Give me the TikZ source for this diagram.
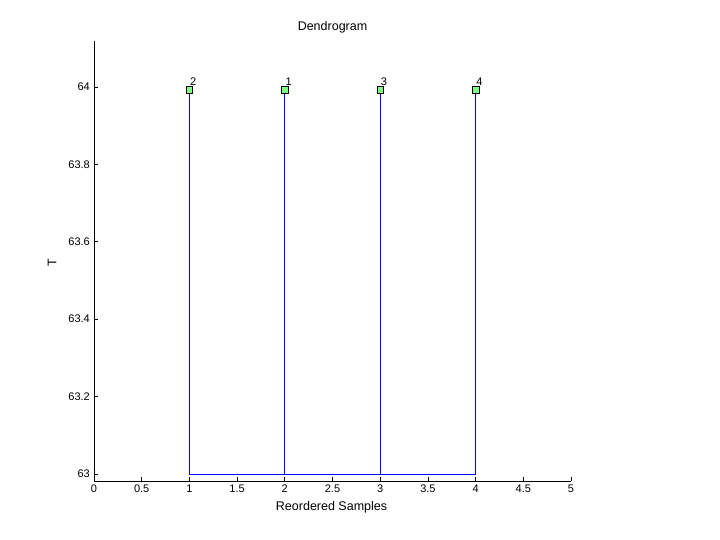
\documentclass[tikz,border=0pt]{standalone}
\usepackage{fontspec}
\setmainfont{Liberation Sans}
\usetikzlibrary{positioning}
\definecolor{leafgreen}{RGB}{128,255,128}
\tikzset{
  axisline/.style={black, line width=0.8pt},
  linkline/.style={blue, line width=0.8pt},
  leafnode/.style={draw=black, fill=leafgreen, minimum size=6.5pt, inner sep=0pt, line width=0.7pt},
  leaflabel/.style={font=\fontsize{11}{13}\selectfont, inner sep=0.5pt, anchor=south west},
  ticklabel/.style={font=\fontsize{11}{13}\selectfont, inner sep=2pt},
  axtitle/.style={font=\fontsize{12.5}{14}\selectfont}
}
\begin{document}
\begin{tikzpicture}[x=1pt, y=1pt]
  \useasboundingbox (0,0) rectangle (720,540);
  \begin{scope}[shift={(94,66)}, x=95.4pt, y=387pt]
    % axes
    \draw[axisline] (0,1.119) -- (0,-0.018) -- (5,-0.018);
    \foreach \t/\lab in {0/0,0.5/0.5,1/1,1.5/1.5,2/2,2.5/2.5,3/3,3.5/3.5,4/4,4.5/4.5,5/5}{
      \draw[axisline] (\t,-0.018) -- ++(0,4pt);
      \node[ticklabel, below, yshift=-2pt] at (\t,-0.018) {\lab};
    }
    \foreach \v/\lab in {0/63,0.2/63.2,0.4/63.4,0.6/63.6,0.8/63.8,1/64}{
      \draw[axisline] (0,\v) -- ++(4pt,0);
      \node[ticklabel, left, xshift=-2pt] at (0,\v) {\lab};
    }
    \node[axtitle] (title) at (2.5,1.155) {Dendrogram};
    \node[axtitle] (xlab) at (2.49,-0.085) {Reordered Samples};
    \node[axtitle, rotate=90] (ylab) at (-0.44,0.545) {T};
    % leaves and links
    \foreach \pos/\id in {1/2,2/1,3/3,4/4}{
      \coordinate (b\id) at (\pos,0);
      \node[leafnode] (l\id) at (\pos,0.992) {};
      \draw[linkline] (l\id) -- (b\id);
      \node[leaflabel] at (l\id.north) {\id};
    }
    \draw[linkline] (b2) -- (b4);
  \end{scope}
\end{tikzpicture}
\end{document}
